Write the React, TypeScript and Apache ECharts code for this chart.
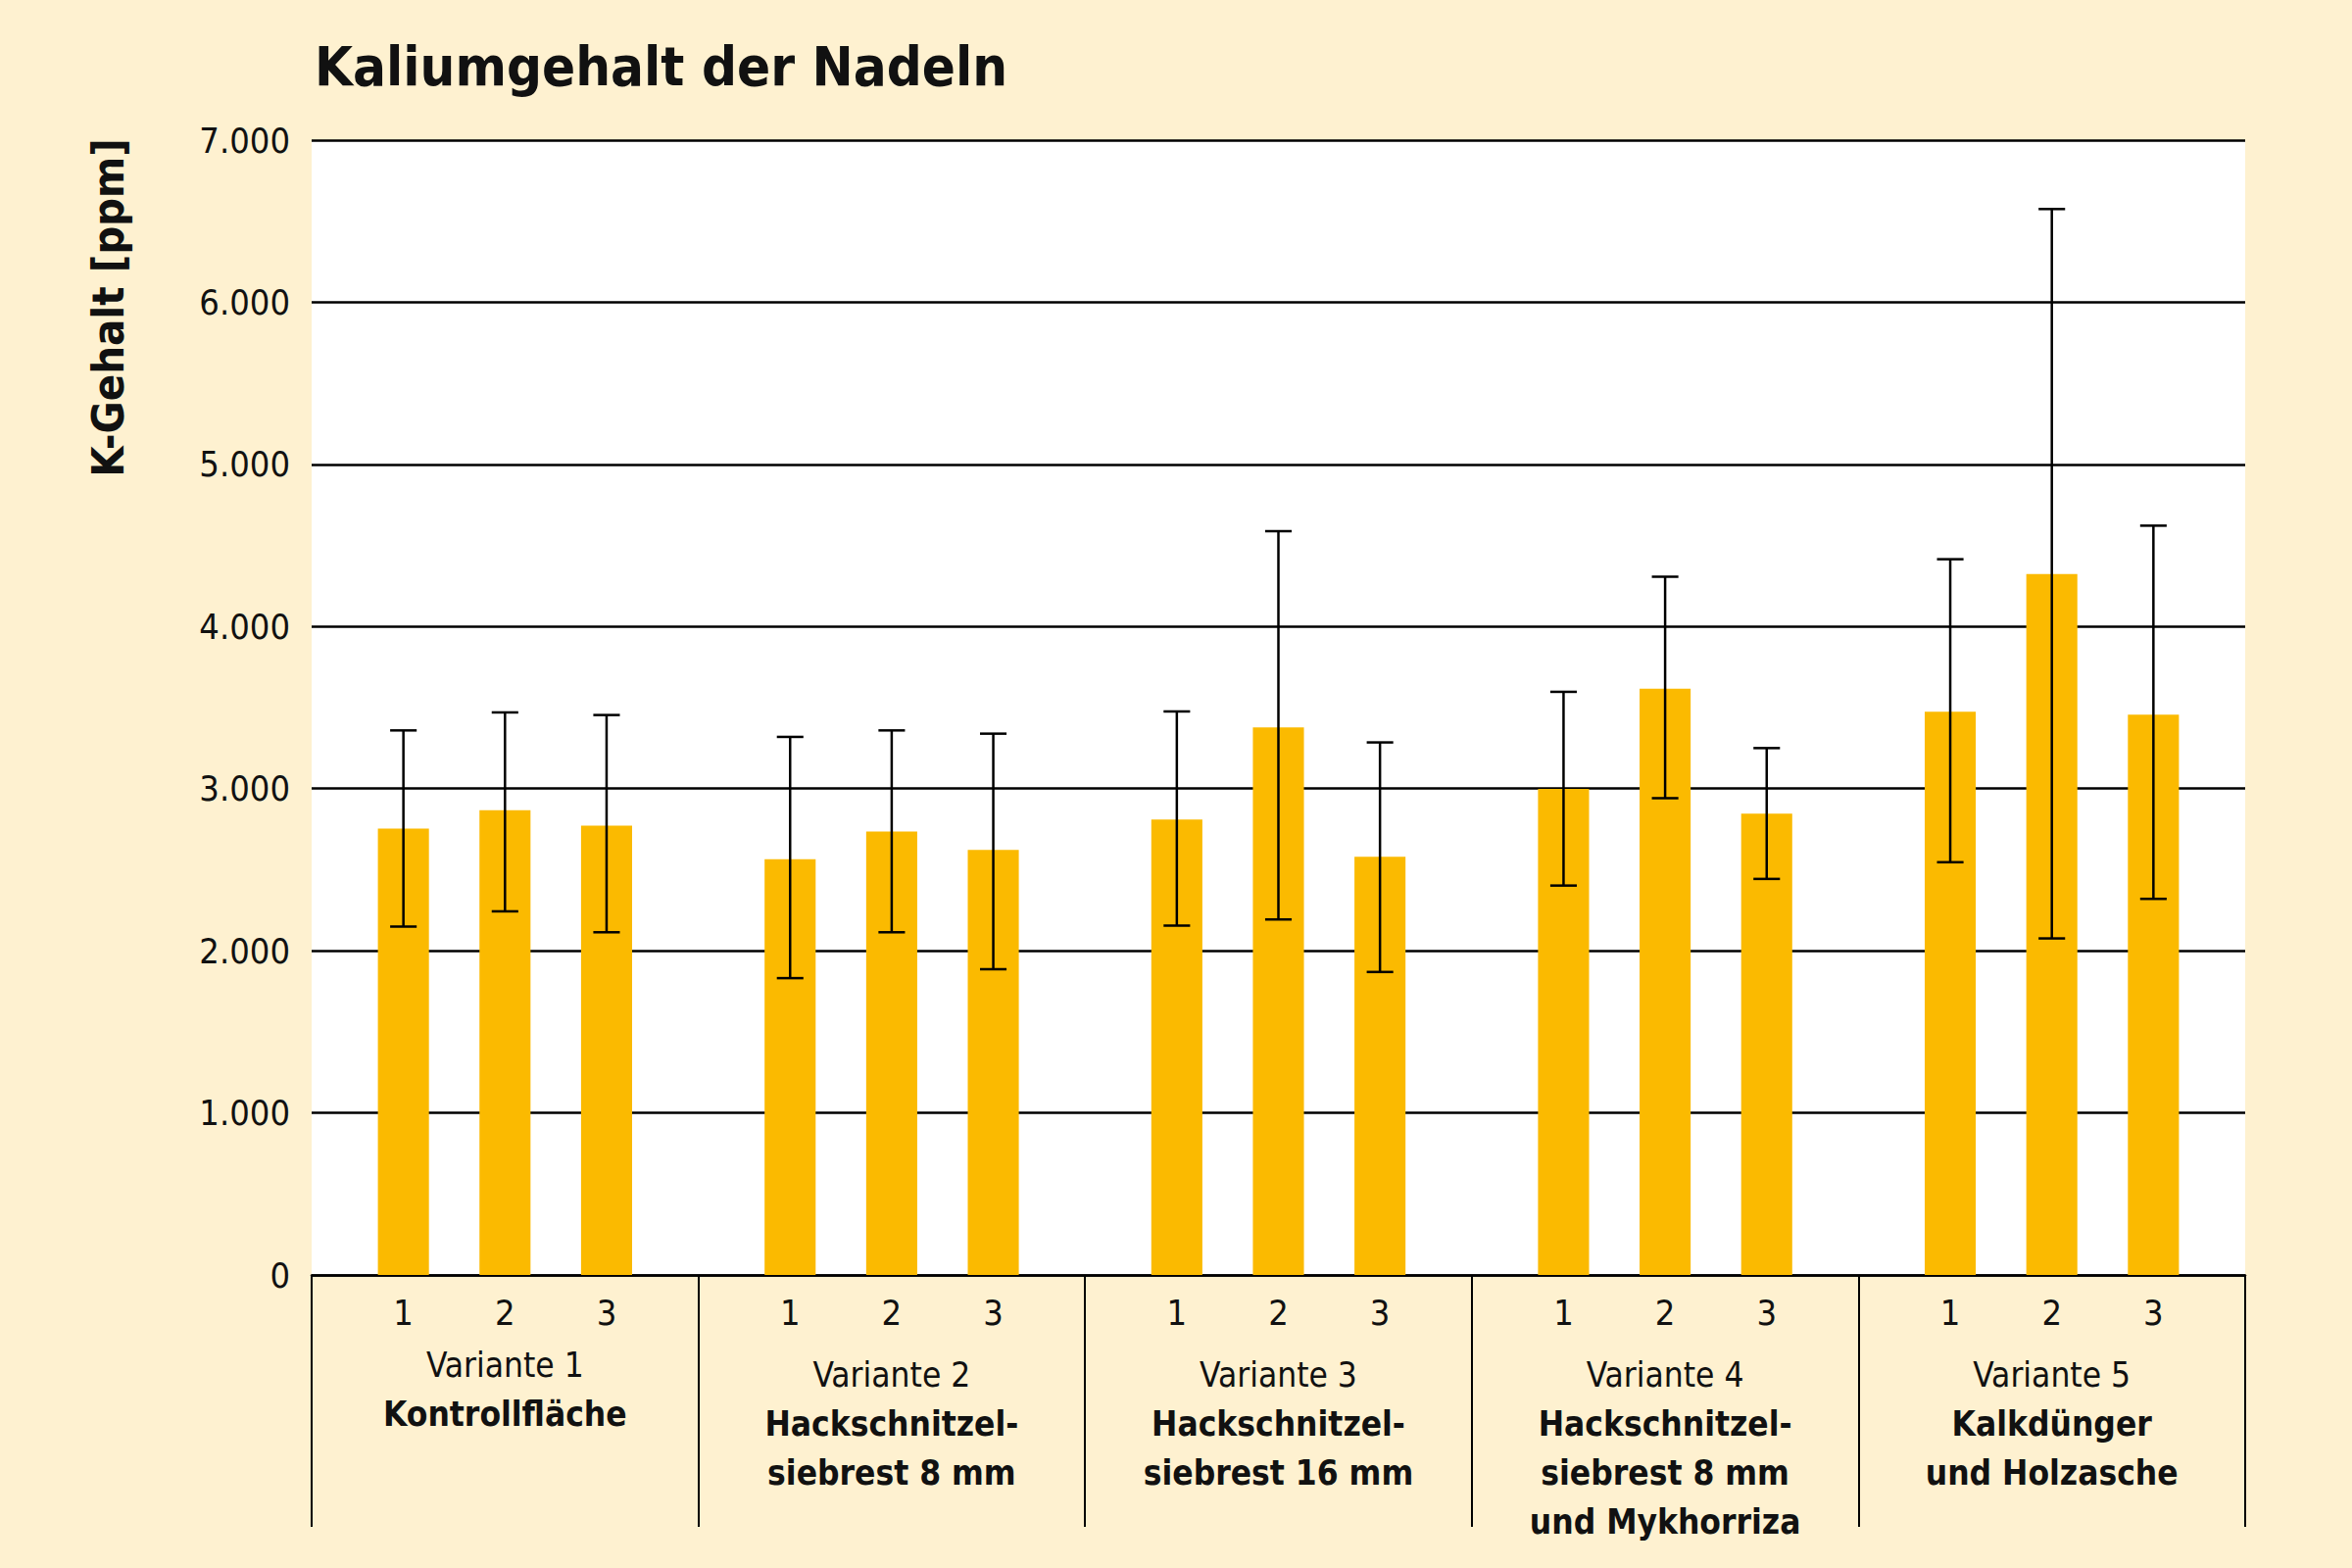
import React, { useEffect, useRef } from "react";
import * as echarts from "echarts";

const chartTitle = "Kaliumgehalt der Nadeln";
const yAxisTitle = "K-Gehalt [ppm]";
const groupNames = ["Variante 1", "Variante 2", "Variante 3", "Variante 4", "Variante 5"];
const groupDescriptions = [
  "Kontrollfläche",
  "Hackschnitzel-\nsiebrest 8 mm",
  "Hackschnitzel-\nsiebrest 16 mm",
  "Hackschnitzel-\nsiebrest 8 mm\nund Mykhorriza",
  "Kalkdünger\nund Holzasche",
];
const subLabels = ["1", "2", "3"];

const mean1 = [2753, 2564, 2809, 2998, 3475];
const mean2 = [2867, 2735, 3378, 3616, 4323];
const mean3 = [2771, 2622, 2580, 2846, 3456];
const low1 = [2149, 1831, 2155, 2402, 2546];
const high1 = [3359, 3319, 3476, 3597, 4415];
const low2 = [2243, 2114, 2193, 2941, 2076];
const high2 = [3470, 3359, 4588, 4307, 6575];
const low3 = [2114, 1886, 1869, 2443, 2320];
const high3 = [3454, 3339, 3285, 3250, 4622];

const yTicks = [0, 1000, 2000, 3000, 4000, 5000, 6000, 7000];

const FONT = "'Liberation Sans Narrow', 'DejaVu Sans Condensed', 'Open Sans', sans-serif";
const BG = "#FEF1D0";
const BAR = "#FBBA00";
const BAR_W = 0.132;
const BAR_GAP = 0.99;

function fmt(v: number): string {
  if (v < 1000) return String(v);
  return Math.floor(v / 1000) + "." + String(v % 1000).padStart(3, "0");
}

export default function App() {
  const ref = useRef<HTMLDivElement>(null);
  useEffect(() => {
    if (!ref.current) return;
    const chart = echarts.init(ref.current, undefined, { renderer: "svg" });
    const means = [mean1, mean2, mean3];
    const lows = [low1, low2, low3];
    const highs = [high1, high2, high3];
    const errData: number[][] = [];
    for (let k = 0; k < 3; k++) {
      for (let g = 0; g < groupNames.length; g++) {
        errData.push([g, k, lows[k][g], highs[k][g]]);
      }
    }
    const catData = groupNames.map((n, i) => {
      const descLines = groupDescriptions[i].split("\n");
      if (i === 0) {
        return "{a1|" + n + "}\n" + descLines.map((l) => "{b1|" + l + "}").join("\n");
      }
      return "{a|" + n + "}\n" + descLines.map((l) => "{b|" + l + "}").join("\n");
    });
    const barSeries = means.map((m, k) => ({
      type: "bar",
      name: subLabels[k],
      data: m,
      barWidth: (BAR_W * 100).toFixed(1) + "%",
      barGap: (BAR_GAP * 100).toFixed(0) + "%",
      itemStyle: { color: BAR },
      label: {
        show: true,
        position: "bottom",
        distance: 20,
        formatter: () => subLabels[k],
        color: "#111",
        fontSize: 36,
        fontFamily: FONT,
      },
      z: 2,
    }));
    chart.setOption({
      animation: false,
      backgroundColor: BG,
      title: {
        text: chartTitle,
        left: 316,
        top: 34,
        textStyle: { fontFamily: FONT, fontSize: 56, fontWeight: "bold", color: "#111" },
      },
      graphic: [
        {
          type: "text",
          x: 110,
          y: 314,
          rotation: Math.PI / 2,
          style: {
            text: yAxisTitle,
            fontFamily: FONT,
            fontSize: 45,
            fontWeight: "bold",
            fill: "#111",
            align: "center",
            verticalAlign: "middle",
          },
        },
      ],
      grid: {
        left: 318,
        right: 109,
        top: 143,
        bottom: 299,
        show: true,
        backgroundColor: "#ffffff",
        borderWidth: 0,
      },
      xAxis: {
        type: "category",
        data: catData,
        boundaryGap: true,
        axisLine: { show: true, lineStyle: { color: "#000", width: 2.5 } },
        axisTick: { show: true, length: 257, interval: 0, lineStyle: { color: "#000", width: 2 } },
        axisLabel: {
          interval: 0,
          margin: 77,
          color: "#111",
          fontFamily: FONT,
          rich: {
            a: { fontSize: 35, lineHeight: 50, fontFamily: FONT, color: "#111" },
            b: { fontSize: 35, lineHeight: 50, fontFamily: FONT, fontWeight: "bold", color: "#111" },
            a1: { fontSize: 35, lineHeight: 30, fontFamily: FONT, color: "#111" },
            b1: { fontSize: 35, lineHeight: 70, fontFamily: FONT, fontWeight: "bold", color: "#111" },
          },
        },
      },
      yAxis: {
        type: "value",
        min: yTicks[0],
        max: yTicks[yTicks.length - 1],
        interval: 1000,
        axisLine: { show: false },
        axisTick: { show: false },
        axisLabel: {
          formatter: (v: number) => fmt(v),
          margin: 22,
          color: "#111",
          fontSize: 36,
          fontFamily: FONT,
        },
        splitLine: { show: true, lineStyle: { color: "#000", width: 2.5 } },
      },
      series: [
        ...barSeries,
        {
          type: "custom",
          data: errData,
          z: 5,
          renderItem: (params: any, api: any) => {
            const g = api.value(0);
            const k = api.value(1);
            const band = api.size([1, 0])[0];
            const bw = band * BAR_W;
            const dx = (k - 1) * bw * (1 + BAR_GAP);
            const top = api.coord([g, api.value(3)]);
            const bot = api.coord([g, api.value(2)]);
            const x = top[0] + dx;
            const cap = bw * 0.26;
            const style = { stroke: "#000", lineWidth: 2.5 };
            return {
              type: "group",
              children: [
                { type: "line", shape: { x1: x, y1: top[1], x2: x, y2: bot[1] }, style },
                { type: "line", shape: { x1: x - cap, y1: top[1], x2: x + cap, y2: top[1] }, style },
                { type: "line", shape: { x1: x - cap, y1: bot[1], x2: x + cap, y2: bot[1] }, style },
              ],
            };
          },
        },
      ],
    });
    return () => chart.dispose();
  }, []);
  return (
    <div
      ref={ref}
      style={{ position: "fixed", left: 0, top: 0, width: 2400, height: 1600 }}
    />
  );
}
